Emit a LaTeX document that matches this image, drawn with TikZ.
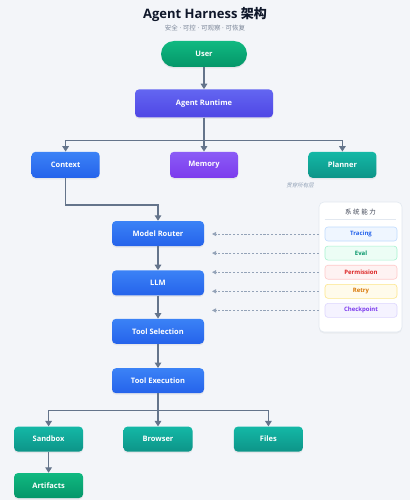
\documentclass[tikz,border=0pt]{standalone}
\usepackage{fontspec}
\setmainfont{Open Sans}
\newfontfamily\cjk{Noto Sans CJK SC}
\newfontfamily\cjkslant[FakeSlant=0.2]{Noto Sans CJK SC}
\newfontfamily\cjkwide[LetterSpace=25]{Noto Sans CJK SC}
\usepackage{xcolor}
\usetikzlibrary{positioning, arrows.meta, shadows, calc}

\definecolor{pageBg}{HTML}{F3F5F9}
\definecolor{titleInk}{HTML}{0F172A}
\definecolor{subInk}{HTML}{7C8799}
\definecolor{arrowGray}{HTML}{64748B}
\definecolor{dashGray}{HTML}{94A3B8}
\definecolor{panelLine}{HTML}{E2E8F0}
% box gradients
\definecolor{blueTop}{HTML}{3B82F6}   \definecolor{blueBot}{HTML}{2563EB}
\definecolor{indigoTop}{HTML}{6366F1} \definecolor{indigoBot}{HTML}{4F46E5}
\definecolor{violetTop}{HTML}{8B5CF6} \definecolor{violetBot}{HTML}{7C3AED}
\definecolor{tealTop}{HTML}{14B8A6}   \definecolor{tealBot}{HTML}{0D9488}
\definecolor{greenTop}{HTML}{10B981}  \definecolor{greenBot}{HTML}{059669}
% capability chips
\definecolor{trcFill}{HTML}{EFF6FF} \definecolor{trcLine}{HTML}{BFDBFE} \definecolor{trcInk}{HTML}{2563EB}
\definecolor{evlFill}{HTML}{ECFDF5} \definecolor{evlLine}{HTML}{A7F3D0} \definecolor{evlInk}{HTML}{059669}
\definecolor{prmFill}{HTML}{FEF2F2} \definecolor{prmLine}{HTML}{FECACA} \definecolor{prmInk}{HTML}{DC2626}
\definecolor{rtyFill}{HTML}{FFFBEB} \definecolor{rtyLine}{HTML}{FDE68A} \definecolor{rtyInk}{HTML}{D97706}
\definecolor{ckpFill}{HTML}{F5F3FF} \definecolor{ckpLine}{HTML}{DDD6FE} \definecolor{ckpInk}{HTML}{7C3AED}

\begin{document}
\begin{tikzpicture}[
        x=1pt, y=-1pt,
        font=\fontsize{7.5}{9}\selectfont\bfseries,
        flow/.style={rounded corners=4pt, minimum height=25pt, minimum width=92pt, text=white,
            top color=#1Top, bottom color=#1Bot,
            drop shadow={opacity=0.12, shadow xshift=0pt, shadow yshift=-1.5pt}},
        flow/.default=blue,
        capitem/.style={draw=#1Line, fill=#1Fill, text=#1Ink, rounded corners=3pt, line width=0.6pt,
            minimum width=72pt, minimum height=14pt, font=\fontsize{6}{7}\selectfont\bfseries},
        arr/.style={-{Triangle[length=5.5pt, width=6.5pt]}, line width=1.4pt, draw=arrowGray},
        darr/.style={-{Triangle[length=4pt, width=4pt]}, line width=0.8pt, draw=dashGray, dash pattern=on 2.2pt off 1.6pt},
    ]
    \useasboundingbox[fill=pageBg] (0,0) rectangle (410,500);

    % Title
    \node[text=titleInk, font=\fontsize{13}{15}\selectfont\bfseries] (title) at (205,15) {Agent Harness {\cjk 架构}};
    \node[text=subInk, font=\fontsize{6.5}{7.5}\selectfont] (subtitle) at (205,28) {{\cjk 安全} · {\cjk 可控} · {\cjk 可观察} · {\cjk 可恢复}};

    % Top layer
    \node[flow=green, rounded corners=13pt, minimum width=86pt, minimum height=26pt] (user) at (204,54) {User};
    \node[flow=indigo, minimum width=138pt, minimum height=28pt, below=22pt of user] (runtime) {Agent Runtime};

    % Runtime parts
    \node[flow=violet, minimum width=68pt, minimum height=26pt, below=34pt of runtime] (memory) {Memory};
    \node[flow, minimum width=68pt, minimum height=26pt, left=70pt of memory] (context) {Context};
    \node[flow=teal, minimum width=68pt, minimum height=26pt, right=70pt of memory] (planner) {Planner};
    \node[text=dashGray, font=\fontsize{5.5}{6}\selectfont\cjkslant] (across) at (300,185) {贯穿所有层};

    % Main pipeline
    \node[flow] (router) at (158,233.5) {Model Router};
    \node[flow, below=24pt of router] (llm) {LLM};
    \node[flow, below=23pt of llm] (toolsel) {Tool Selection};
    \node[flow, below=24pt of toolsel] (toolexe) {Tool Execution};

    % Tools
    \node[flow=teal, minimum width=69pt, below=33pt of toolexe] (browser) {Browser};
    \node[flow=teal, minimum width=69pt, left=40pt of browser] (sandbox) {Sandbox};
    \node[flow=teal, minimum width=69pt, right=41pt of browser] (files) {Files};
    \node[flow=green, minimum width=69pt, below=21pt of sandbox] (artifacts) {Artifacts};

    % Capability panel
    \node[draw=panelLine, fill=white, rounded corners=5pt, line width=0.6pt, minimum width=83pt, minimum height=130pt,
        drop shadow={opacity=0.08, shadow xshift=0pt, shadow yshift=-1.5pt}] (panel) at (360.5,267) {};
    \node[text=titleInk!80, font=\fontsize{6.5}{7}\selectfont\cjkwide] (paneltitle) at (360.5,212) {系统能力};
    \draw[panelLine, line width=0.6pt] ($(panel.north west)+(6,18)$) -- ($(panel.north east)+(-6,18)$);
    \node[capitem=trc] (trc) at (361,234) {Tracing};
    \node[capitem=evl, below=4.5pt of trc] (evl) {Eval};
    \node[capitem=prm, below=4.5pt of evl] (prm) {Permission};
    \node[capitem=rty, below=4.5pt of prm] (rty) {Retry};
    \node[capitem=ckp, below=4.5pt of rty] (ckp) {Checkpoint};
    \coordinate (tipline) at (212,0);

    % Arrows
    \draw[arr] (user) -- (runtime);
    \draw[arr] (runtime) -- (memory);
    \draw[arr] (runtime.south) -- ++(0,23) -| (context.north);
    \draw[arr] (runtime.south) -- ++(0,23) -| (planner.north);
    \draw[arr] (context.south) -- ++(0,27) -| (router.north);
    \draw[arr] (router) -- (llm);
    \draw[arr] (llm) -- (toolsel);
    \draw[arr] (toolsel) -- (toolexe);
    \draw[arr] (toolexe) -- (browser);
    \draw[arr] (toolexe.south) -- ++(0,17) -| (sandbox.north);
    \draw[arr] (toolexe.south) -- ++(0,17) -| (files.north);
    \draw[arr] (sandbox) -- (artifacts);
    \foreach \c in {trc,evl,prm,rty,ckp}
        \draw[darr] (\c -| panel.west) -- (\c -| tipline);
\end{tikzpicture}
\end{document}
